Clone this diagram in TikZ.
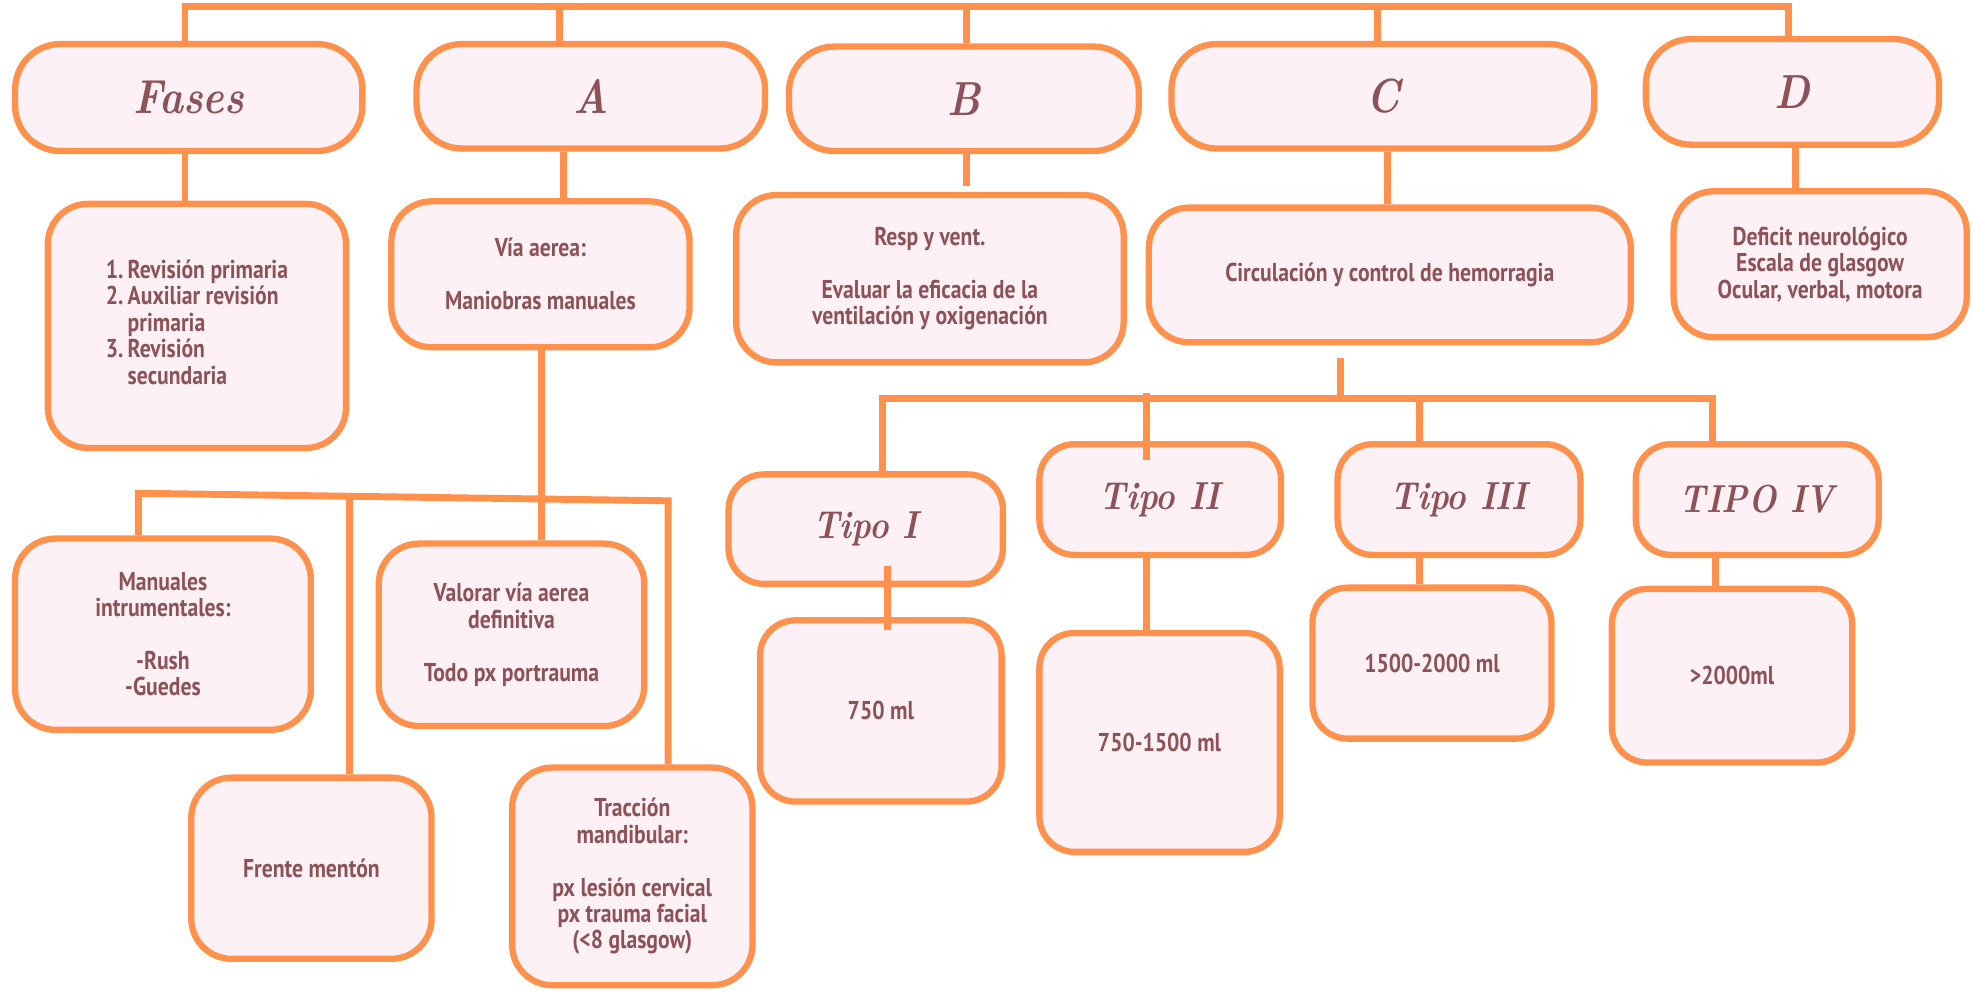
\documentclass[tikz,border=0pt]{standalone}
\usepackage{fontspec}
\usetikzlibrary{backgrounds}
\setmainfont{PT Sans}[FakeStretch=0.84]
\newfontfamily\headfont{lmroman10-bolditalic}[Extension=.otf,FakeStretch=0.85]
\definecolor{orng}{HTML}{FF914D}
\definecolor{pinkfill}{HTML}{FEF1F6}
\definecolor{textc}{HTML}{8C5257}
\tikzset{
  box/.style={draw=orng, line width=5pt, fill=pinkfill, text=textc, align=center,
    inner sep=2pt, font=\bfseries\fontsize{20.5}{21}\selectfont},
  headbox/.style={box, rounded corners=36pt, font=\headfont\fontsize{38}{40}\selectfont},
  subbox/.style={box, rounded corners=32pt},
  tipobox/.style={box, rounded corners=28pt, font=\headfont\fontsize{31}{33}\selectfont},
  valbox/.style={box, rounded corners=28pt},
  conn/.style={draw=orng, line width=5.5pt},
}
\begin{document}
\begin{tikzpicture}[x=1pt,y=-1pt]
\useasboundingbox (0,0) rectangle (1568,787);
% coordinates for connectors
\coordinate (tl) at (147,5);
\coordinate (tr) at (1421,5);
\coordinate (ta) at (445,5);
\coordinate (tb) at (768,5);
\coordinate (tc) at (1095,5);
\coordinate (abl) at (110,392);
\coordinate (abr) at (531,398);
\coordinate (afr) at (278,395);
\coordinate (aval) at (430,396);
\coordinate (cbl) at (701,317);
\coordinate (cbr) at (1361,317);
\coordinate (cm) at (1065,317);
\coordinate (c2) at (911,312);
\coordinate (c3) at (1128,317);

% header row
\path (150,77.5) node[headbox, minimum width=276pt, minimum height=85pt] (fases) {Fases};
\path (469.5,76.5) node[headbox, minimum width=277pt, minimum height=83pt] (a) {A};
\path (766,78.5) node[headbox, minimum width=278pt, minimum height=83pt] (b) {B};
\path (1099,76.5) node[headbox, minimum width=336pt, minimum height=83pt] (c) {C};
\path (1424.5,73) node[headbox, minimum width=233pt, minimum height=84pt] (d) {D};

% second row
\path (156.5,259) node[subbox, minimum width=237pt, minimum height=194pt] (fsub)
  {\begin{tabular}{@{}r@{\,}l@{}}1.&Revisión primaria\\2.&Auxiliar revisión\\&primaria\\3.&Revisión\\&secundaria\end{tabular}};
\path (429.5,218) node[subbox, minimum width=237pt, minimum height=116pt] (asub)
  {Vía aerea:\\[21pt]Maniobras manuales};
\path (739,221.5) node[subbox, minimum width=308pt, minimum height=133pt] (bsub)
  {Resp y vent.\\[21pt]Evaluar la eficacia de la\\ventilación y oxigenación};
\path (1104.5,218.5) node[subbox, minimum width=383pt, minimum height=107pt] (csub)
  {Circulación y control de hemorragia};
\path (1446.5,210) node[subbox, minimum width=233pt, minimum height=116pt] (dsub)
  {Deficit neurológico\\Escala de glasgow\\Ocular, verbal, motora};

% A children
\path (129.5,504) node[subbox, minimum width=235pt, minimum height=152pt] (man)
  {Manuales\\intrumentales:\\[21pt]-Rush\\-Guedes};
\path (247.5,690) node[subbox, minimum width=191pt, minimum height=144pt] (fre)
  {Frente mentón};
\path (406.5,504.5) node[subbox, minimum width=211pt, minimum height=145pt] (val)
  {Valorar vía aerea\\definitiva\\[21pt]Todo px portrauma};
\path (502.5,696.5) node[subbox, minimum width=191pt, minimum height=173pt] (tra)
  {Tracción\\mandibular:\\[21pt]px lesión cervical\\px trauma facial\\(<8 glasgow)};

% C children
\path (688,420.5) node[tipobox, minimum width=218pt, minimum height=87pt] (t1) {Tipo I};
\path (922,397) node[tipobox, minimum width=192pt, minimum height=88pt] (t2) {Tipo II};
\path (1159.5,397) node[tipobox, minimum width=193pt, minimum height=88pt] (t3) {Tipo III};
\path (1396.5,397) node[tipobox, minimum width=193pt, minimum height=88pt] (t4) {TIPO IV};

\path (700,565) node[valbox, minimum width=192pt, minimum height=144pt] (v1) {750 ml};
\path (921.5,590) node[valbox, minimum width=191pt, minimum height=174pt] (v2) {750-1500 ml};
\path (1138,527) node[valbox, minimum width=190pt, minimum height=120pt] (v3) {1500-2000 ml};
\path (1376.5,537) node[valbox, minimum width=191pt, minimum height=138pt] (v4) {>2000ml};

% connectors behind the boxes
\begin{pgfonlayer}{background}
  \draw[conn] (fases.north -| tl) -- (tl) -- (tr) -- (d.north -| tr);
  \draw[conn] (ta) -- (a.north -| ta);
  \draw[conn] (tb) -- (b.north -| tb);
  \draw[conn] (tc) -- (c.north -| tc);
  \draw[conn] (fases.south -| tl) -- (fsub.north -| tl);
  \draw[conn] (a.south -| 448,0) -- (asub.north -| 448,0);
  \draw[conn] (b.south -| tb) -- ([yshift=5pt]bsub.north -| tb);
  \draw[conn] (c.south -| 1103,0) -- (csub.north -| 1103,0);
  \draw[conn] (asub.south -| aval) -- (aval) -- (val.north -| aval);
  \draw[conn] (man.north -| abl) -- (abl) -- (abr) -- (tra.north -| abr);
  \draw[conn] (afr) -- (fre.north -| afr);
  \draw[conn] ([yshift=-10pt]csub.south -| cm) -- (cm);
  \draw[conn] (t1.north -| cbl) -- (cbl) -- (cbr) -- (t4.north -| cbr);
  \draw[conn] (c3) -- (t3.north -| c3);
  \draw[conn] (t3.south -| c3) -- (v3.north -| c3);
  \draw[conn] (t4.south -| 1363,0) -- (v4.north -| 1363,0);
  \draw[conn] (t2.south -| c2) -- (v2.north -| c2);
\end{pgfonlayer}
% connectors drawn over the boxes
\draw[conn] ([yshift=4pt]d.south -| 1427,0) -- ([yshift=-5pt]dsub.north -| 1427,0);
\draw[conn] (c2) -- ([yshift=-15pt]t2.north -| c2);
\draw[conn] ([yshift=17pt]t1.south -| 705,0) -- ([yshift=-10pt]v1.north -| 705,0);
\end{tikzpicture}
\end{document}
